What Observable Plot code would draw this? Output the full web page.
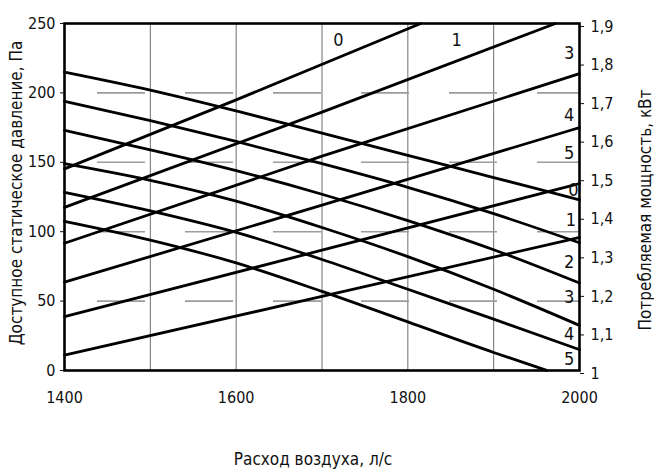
<!DOCTYPE html>
<html>
<head>
<meta charset="utf-8">
<script src="https://cdn.jsdelivr.net/npm/d3@7"></script>
<script src="https://cdn.jsdelivr.net/npm/@observablehq/plot@0.6"></script>
<style>
  html, body { margin: 0; padding: 0; background: #fff; }
  #chart svg { display: block; }
</style>
</head>
<body>
<div id="chart"></div>
<script>
// Fan performance: available static pressure (Pa, left axis) and
// power consumption (kW, right axis) against air flow (l/s), settings 0–5.

const flowTicks = [1400, 1600, 1800, 2000];
const flowGrid = [1500, 1600, 1700, 1800, 1900];
const pressureTicks = [0, 50, 100, 150, 200, 250];
const pressureGrid = [50, 100, 150, 200];
const powerTicks = [1.0, 1.1, 1.2, 1.3, 1.4, 1.5, 1.6, 1.7, 1.8, 1.9];

// Available static pressure, Pa
const pressureFlow = [1400, 1500, 1600, 1700, 1800, 1900, 2000];
const pressureFlow5 = [1400, 1500, 1600, 1700, 1800, 1900, 1962];
const pressure0 = [215, 202, 187, 171, 155, 139, 123];
const pressure1 = [194, 180, 165, 149, 132, 113, 92];
const pressure2 = [173, 159, 144, 127, 108, 87, 63];
const pressure3 = [149, 137, 122, 103, 82, 58.5, 32.5];
const pressure4 = [128.4, 115, 99.5, 80, 58.5, 37, 15];
const pressure5 = [107.5, 94, 77.5, 57, 35, 13, 0];

// Power consumption, kW
const powerFlow0 = [1400, 1600, 1815];
const powerFlow1 = [1400, 1700, 1972];
const powerFlow = [1400, 1700, 2000];
const power0 = [1.523, 1.702, 1.9];
const power1 = [1.423, 1.670, 1.9];
const power2 = [1.330, 1.556, 1.770];
const power3 = [1.229, 1.429, 1.630];
const power4 = [1.140, 1.312, 1.485];
const power5 = [1.040, 1.192, 1.345];

// Curve labels (text, flow, pressure)
const labelText = ["0", "1", "3", "4", "5", "0", "1", "2", "3", "4", "5"];
const labelFlow = [1719, 1857, 1988, 1988, 1988, 1993, 1990, 1988, 1988, 1988, 1988];
const labelPressure = [238, 238, 228.4, 184, 156.3, 130, 108, 78, 52.8, 26.4, 8.4];

const FONT = "'Liberation Sans Narrow', 'Arial Narrow', 'DejaVu Sans Condensed', 'Liberation Sans', sans-serif";

// power (kW) is drawn against the pressure scale: 1.0–1.9 kW spans 0–250 Pa
const kwToPa = kw => (kw - 1) / 0.9 * 250;
const paToKw = pa => 1 + pa / 250 * 0.9;

const toRows = (curve, flows, values, f = v => v) =>
  flows.map((q, i) => ({curve, flow: q, value: f(values[i])}));

const pressureRows = [
  toRows("p0", pressureFlow, pressure0),
  toRows("p1", pressureFlow, pressure1),
  toRows("p2", pressureFlow, pressure2),
  toRows("p3", pressureFlow, pressure3),
  toRows("p4", pressureFlow, pressure4),
  toRows("p5", pressureFlow5, pressure5)
].flat();

const powerRows = [
  toRows("w0", powerFlow0, power0, kwToPa),
  toRows("w1", powerFlow1, power1, kwToPa),
  toRows("w2", powerFlow, power2, kwToPa),
  toRows("w3", powerFlow, power3, kwToPa),
  toRows("w4", powerFlow, power4, kwToPa),
  toRows("w5", powerFlow, power5, kwToPa)
].flat();

const labels = labelText.map((t, i) => ({text: t, flow: labelFlow[i], value: labelPressure[i]}));

const fmtKw = pa => {
  const k = Math.round(paToKw(pa) * 10) / 10;
  return String(k).replace(".", ",");
};

const chart = Plot.plot({
  width: 654,
  height: 471,
  marginLeft: 64,
  marginRight: 75,
  marginTop: 23,
  marginBottom: 101,
  style: {fontFamily: FONT, fontSize: "16px", color: "#111", background: "#fff"},
  x: {domain: [1400, 2000]},
  y: {domain: [0, 250]},
  marks: [
    Plot.ruleX(flowGrid, {stroke: "#6f6f6f", strokeWidth: 1}),
    Plot.ruleY(pressureGrid, {stroke: "#9c9c9c", strokeWidth: 1.6, strokeDasharray: "48,40", strokeDashoffset: -33}),
    Plot.line(pressureRows, {x: "flow", y: "value", z: "curve", stroke: "#000", strokeWidth: 2.8, curve: "monotone-x"}),
    Plot.line(powerRows, {x: "flow", y: "value", z: "curve", stroke: "#000", strokeWidth: 2.8, curve: "monotone-x"}),
    Plot.frame({stroke: "#000", strokeWidth: 2.6}),
    Plot.axisY({anchor: "left", ticks: pressureTicks, tickSize: 4, tickPadding: 5, label: null, fontSize: 16}),
    Plot.axisY({anchor: "right", ticks: powerTicks.map(kwToPa), tickFormat: fmtKw, tickSize: 4, tickPadding: 7, label: null, fontSize: 16, dy: 3}),
    Plot.axisX({ticks: flowTicks, tickFormat: d => String(d), tickSize: 0, tickPadding: 21, label: null, fontSize: 16}),
    Plot.text(labels, {x: "flow", y: "value", text: "text", fontSize: 18, textAnchor: "middle", lineAnchor: "middle", fill: "#111"}),
    Plot.text(["Доступное статическое давление, Па"], {frameAnchor: "left", rotate: -90, dx: -48, dy: -4, fontSize: 17, lineAnchor: "middle", textAnchor: "middle", fill: "#111"}),
    Plot.text(["Потребляемая мощность, кВт"], {frameAnchor: "right", rotate: -90, dx: 66, dy: 13, fontSize: 17, lineAnchor: "middle", textAnchor: "middle", fill: "#111"}),
    Plot.text(["Расход воздуха, л/с"], {frameAnchor: "bottom", dx: -9, dy: 89, fontSize: 17, lineAnchor: "middle", textAnchor: "middle", fill: "#111"})
  ]
});

document.getElementById("chart").append(chart);
</script>
</body>
</html>
